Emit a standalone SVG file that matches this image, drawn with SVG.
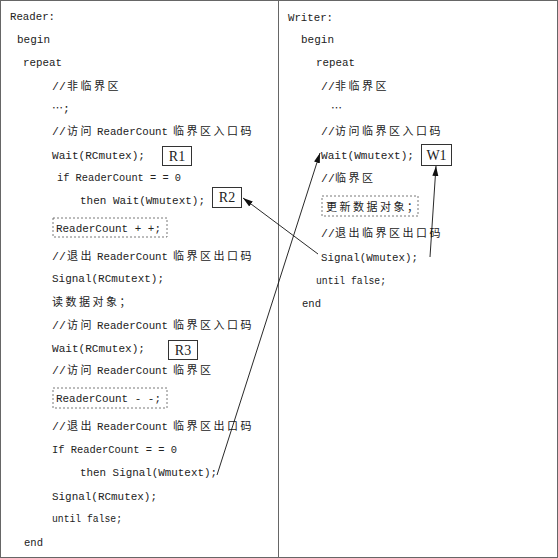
<svg xmlns="http://www.w3.org/2000/svg" width="558" height="558" viewBox="0 0 558 558">
<defs>
<style>
text{font-family:"Liberation Mono","Noto Sans CJK SC",monospace;font-size:11.5px;fill:#222}
.rc{font-size:11px}
.cj{font-family:"Noto Sans CJK SC",sans-serif;font-size:11px;letter-spacing:2.5px}
.lbl{font-family:"Liberation Serif","Noto Serif",serif;font-size:14px;text-anchor:middle}
.box{fill:none;stroke:#333;stroke-width:1}
.dash{fill:none;stroke:#555;stroke-width:0.8;stroke-dasharray:2 2}
.conn{fill:none;stroke:#111;stroke-width:0.9}
</style>
<marker id="ah" viewBox="0 0 10 10" refX="10" refY="5" markerWidth="10" markerHeight="10" markerUnits="userSpaceOnUse" orient="auto">
<path d="M0,2 L10,5 L0,8 z" fill="#111"/>
</marker>
</defs>
<rect x="0.5" y="0.5" width="557" height="557" fill="#fff" stroke="#666"/>
<line x1="278.5" y1="0" x2="278.5" y2="558" stroke="#666"/>

<g id="reader">
<text x="10" y="20" textLength="45" lengthAdjust="spacingAndGlyphs">Reader:</text>
<text x="17" y="43" textLength="33" lengthAdjust="spacingAndGlyphs">begin</text>
<text x="23" y="66" textLength="39" lengthAdjust="spacingAndGlyphs">repeat</text>
<text x="52" y="90">//<tspan class="cj" x="67">非临界区</tspan></text>
<text x="52" y="112"><tspan class="cj" style="letter-spacing:0">⋯</tspan>;</text>
<text x="52" y="135">//</text><text x="67" y="135" class="cj">访问</text><text x="97" y="135" class="rc" textLength="71" lengthAdjust="spacingAndGlyphs">ReaderCount</text><text x="173" y="135" class="cj">临界区入口码</text>
<text x="52" y="159" textLength="93" lengthAdjust="spacingAndGlyphs">Wait(RCmutex);</text>
<text x="57" y="181" textLength="124" lengthAdjust="spacingAndGlyphs">if ReaderCount = = 0</text>
<text x="80" y="204" textLength="125" lengthAdjust="spacingAndGlyphs">then Wait(Wmutext);</text>
<rect class="dash" x="53" y="218" width="114" height="19"/>
<text x="56" y="232" textLength="105" lengthAdjust="spacingAndGlyphs">ReaderCount + +;</text>
<text x="52" y="260">//</text><text x="67" y="260" class="cj">退出</text><text x="97" y="260" class="rc" textLength="71" lengthAdjust="spacingAndGlyphs">ReaderCount</text><text x="173" y="260" class="cj">临界区出口码</text>
<text x="52" y="282" textLength="112" lengthAdjust="spacingAndGlyphs">Signal(RCmutext);</text>
<text x="52" y="306" class="cj">读数据对象；</text>
<text x="52" y="329">//</text><text x="67" y="329" class="cj">访问</text><text x="97" y="329" class="rc" textLength="71" lengthAdjust="spacingAndGlyphs">ReaderCount</text><text x="173" y="329" class="cj">临界区入口码</text>
<text x="52" y="352" textLength="93" lengthAdjust="spacingAndGlyphs">Wait(RCmutex);</text>
<text x="52" y="374">//</text><text x="67" y="374" class="cj">访问</text><text x="97" y="374" class="rc" textLength="71" lengthAdjust="spacingAndGlyphs">ReaderCount</text><text x="173" y="374" class="cj">临界区</text>
<rect class="dash" x="53" y="388" width="114" height="20"/>
<text x="56" y="402" textLength="105" lengthAdjust="spacingAndGlyphs">ReaderCount - -;</text>
<text x="52" y="430">//</text><text x="67" y="430" class="cj">退出</text><text x="97" y="430" class="rc" textLength="71" lengthAdjust="spacingAndGlyphs">ReaderCount</text><text x="173" y="430" class="cj">临界区出口码</text>
<text x="52" y="453" textLength="125" lengthAdjust="spacingAndGlyphs">If ReaderCount = = 0</text>
<text x="80" y="476" textLength="137" lengthAdjust="spacingAndGlyphs">then Signal(Wmutext);</text>
<text x="52" y="500" textLength="105" lengthAdjust="spacingAndGlyphs">Signal(RCmutex);</text>
<text x="52" y="522" textLength="70" lengthAdjust="spacingAndGlyphs">until false;</text>
<text x="24" y="546" textLength="19" lengthAdjust="spacingAndGlyphs">end</text>
</g>

<g id="R1"><rect class="box" x="162.5" y="146.5" width="29" height="19"/><text class="lbl" x="177" y="161">R1</text></g>
<g id="R2"><rect class="box" x="212.5" y="187.5" width="29" height="20"/><text class="lbl" x="227" y="202">R2</text></g>
<g id="R3"><rect class="box" x="168.5" y="340.5" width="29" height="19"/><text class="lbl" x="183" y="355">R3</text></g>

<g id="writer">
<text x="288" y="21" textLength="45" lengthAdjust="spacingAndGlyphs">Writer:</text>
<text x="301" y="43" textLength="33" lengthAdjust="spacingAndGlyphs">begin</text>
<text x="316" y="66" textLength="39" lengthAdjust="spacingAndGlyphs">repeat</text>
<text x="321" y="90">//<tspan class="cj" x="335">非临界区</tspan></text>
<text x="331" y="112" class="cj" style="letter-spacing:0">⋯</text>
<text x="321" y="135">//<tspan class="cj" x="335">访问临界区入口码</tspan></text>
<text x="321" y="159" textLength="93" lengthAdjust="spacingAndGlyphs">Wait(Wmutext);</text>
<text x="321" y="182">//<tspan class="cj" x="335">临界区</tspan></text>
<rect class="dash" x="322" y="196" width="96" height="20"/>
<text x="326" y="211" class="cj">更新数据对象；</text>
<text x="321" y="237">//<tspan class="cj" x="335">退出临界区出口码</tspan></text>
<text x="321" y="261" textLength="97" lengthAdjust="spacingAndGlyphs">Signal(Wmutex);</text>
<text x="316" y="284" textLength="70" lengthAdjust="spacingAndGlyphs">until false;</text>
<text x="302" y="307" textLength="19" lengthAdjust="spacingAndGlyphs">end</text>
</g>

<g id="W1"><rect class="box" x="421.5" y="144.5" width="30" height="21"/><text class="lbl" x="436.5" y="160">W1</text></g>

<g id="connectors">
<line class="conn" x1="318" y1="254" x2="243" y2="198" marker-end="url(#ah)"/>
<line class="conn" x1="217" y1="475" x2="320" y2="153" marker-end="url(#ah)"/>
<line class="conn" x1="430" y1="257" x2="436" y2="166" marker-end="url(#ah)"/>
</g>
</svg>
